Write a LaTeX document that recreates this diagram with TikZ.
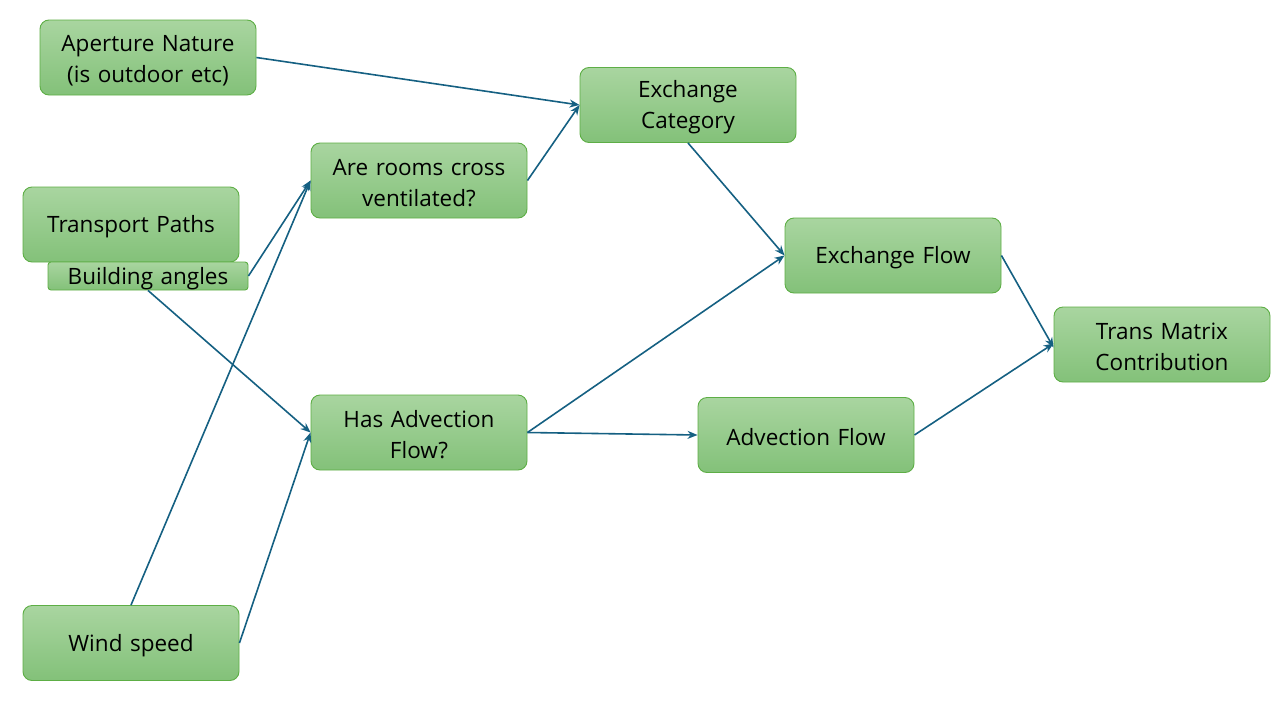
\documentclass[tikz,border=0pt]{standalone}
\usepackage{fontspec}
\setmainfont{Open Sans}
\usetikzlibrary{arrows.meta}
\definecolor{edgecol}{HTML}{156082}
\definecolor{boxtop}{HTML}{A9D5A0}
\definecolor{boxbot}{HTML}{83C179}
\definecolor{boxline}{HTML}{5DAE45}
\tikzset{
  box/.style={draw=boxline, line width=0.9pt, rounded corners=9pt, top color=boxtop, bottom color=boxbot,
    minimum width=216pt, minimum height=75pt, inner sep=2pt, align=center, text width=212pt,
    font=\fontsize{22.5}{31}\selectfont, execute at begin node={\rule{0pt}{22pt}}},
  smallbox/.style={draw=boxline, line width=0.9pt, rounded corners=3pt, top color=boxtop, bottom color=boxbot,
    minimum width=200pt, minimum height=28pt, inner sep=0pt, align=center, text width=198pt,
    font=\fontsize{22.5}{31}\selectfont, execute at begin node={\rule{0pt}{22pt}}},
  conn/.style={draw=edgecol, line width=1.6pt, -{Stealth[length=10pt,width=8pt]}}
}
\begin{document}
\begin{tikzpicture}[x=1pt,y=-1pt]
\useasboundingbox (0,0) rectangle (1282,707);
\node[box] (ap) at (148,57.5) {Aperture Nature\\(is outdoor etc)};
\node[box] (ec) at (688,105) {Exchange\\Category};
\node[box] (ar) at (419,180.5) {Are rooms cross\\ventilated?};
\node[box] (tp) at (131,224.5) {Transport Paths};
\node[smallbox] (ba) at (148,276) {Building angles};
\node[box] (ef) at (893,255.5) {Exchange Flow};
\node[box] (tm) at (1162,344.5) {Trans Matrix\\Contribution};
\node[box] (ha) at (419,432.5) {Has Advection\\Flow?};
\node[box] (af) at (806,435) {Advection Flow};
\node[box] (ws) at (131,643) {Wind speed};
\draw[conn] (ap.east) -- (ec.west);
\draw[conn] (ar.east) -- (ec.west);
\draw[conn] (ec.south) -- (ef.west);
\draw[conn] (ba.east) -- (ar.west);
\draw[conn] (ba.south) -- (ha.west);
\draw[conn] (ws.north) -- (ar.west);
\draw[conn] (ws.east) -- (ha.west);
\draw[conn] (ha.east) -- (ef.west);
\draw[conn] (ha.east) -- (af.west);
\draw[conn] (ef.east) -- ([yshift=-3pt]tm.west);
\draw[conn] (af.east) -- ([yshift=1pt]tm.west);
\end{tikzpicture}
\end{document}
